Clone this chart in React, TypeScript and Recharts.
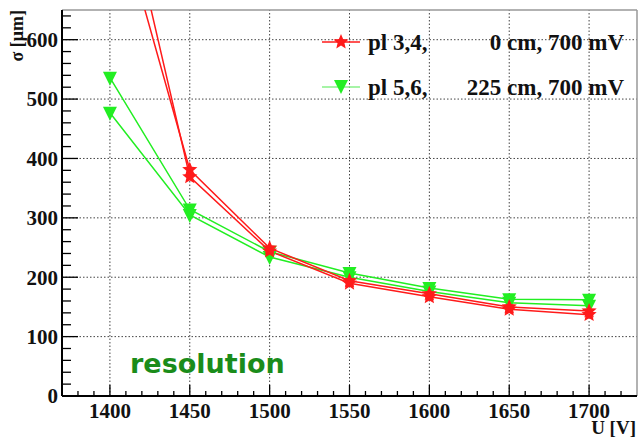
import React from 'react';
import { LineChart, Line, XAxis, YAxis, ReferenceLine, Legend } from 'recharts';

// ---- data ----
const voltages = [1400, 1450, 1500, 1550, 1600, 1650, 1700];
const redA = [860, 381, 249, 194, 172, 150, 143];
const redB = [950, 369, 244, 190, 167, 146, 137];
const greenA = [536, 314, 243, 207, 182, 163, 162];
const greenB = [477, 305, 234, 200, 176, 157, 152];

const xMajor = [1400, 1450, 1500, 1550, 1600, 1650, 1700];
const xMinor = [1380, 1390, 1410, 1420, 1430, 1440, 1460, 1470, 1480, 1490, 1510, 1520, 1530, 1540,
  1560, 1570, 1580, 1590, 1610, 1620, 1630, 1640, 1660, 1670, 1680, 1690, 1710, 1720];
const yMajor = [0, 100, 200, 300, 400, 500, 600];
const yMinor = [20, 40, 60, 80, 120, 140, 160, 180, 220, 240, 260, 280, 320, 340, 360, 380,
  420, 440, 460, 480, 520, 540, 560, 580, 620, 640];

const legendNames = ['pl 3,4,', 'pl 5,6,'];
const legendDetails = ['0 cm, 700 mV', '225 cm, 700 mV'];
const xTitle = 'U [V]';
const yTitle = 'σ [μm]';
const noteText = 'resolution';

const xDomain = [1370, 1730];
const yDomain = [0, 650];

const data = voltages.map((u, i) => ({ u, redA: redA[i], redB: redB[i], greenA: greenA[i], greenB: greenB[i] }));

const RED = '#ff1a1a';
const GREEN = '#22ee22';
const SERIF = "'Liberation Serif', 'Times New Roman', 'DejaVu Serif', serif";

const starPath = (cx: number, cy: number, R: number, r: number) => {
  let d = '';
  for (let k = 0; k < 10; k++) {
    const rad = k % 2 === 0 ? R : r;
    const a = -Math.PI / 2 + (k * Math.PI) / 5;
    d += (k === 0 ? 'M' : 'L') + (cx + rad * Math.cos(a)).toFixed(2) + ',' + (cy + rad * Math.sin(a)).toFixed(2);
  }
  return d + 'Z';
};

const StarDot = (props: any) => {
  const { cx, cy, index } = props;
  if (cx == null || cy == null) return <g key={'s' + index} />;
  return <path key={'s' + index} d={starPath(cx, cy, 8, 3.6)} fill={RED} />;
};

const TriDot = (props: any) => {
  const { cx, cy, index } = props;
  if (cx == null || cy == null) return <g key={'t' + index} />;
  return (
    <path key={'t' + index} d={`M${cx - 7},${cy - 6} L${cx + 7},${cy - 6} L${cx},${cy + 8} Z`} fill={GREEN} />
  );
};

const txt = { fontFamily: SERIF, fontWeight: 700 } as React.CSSProperties;

const XTick = (props: any) => {
  const { x, y, payload } = props;
  const major = xMajor.includes(payload.value);
  const axisY = y - 7;
  return (
    <g>
      <line x1={x} x2={x} y1={axisY} y2={axisY - (major ? 11 : 5)} stroke="#000" strokeWidth={1.3} />
      {major && (
        <text x={x} y={y} dy="0.71em" textAnchor="middle" style={{ ...txt, fontSize: 21 }} fill="#111">
          {payload.value}
        </text>
      )}
    </g>
  );
};

const YTick = (props: any) => {
  const { x, y, payload } = props;
  const major = yMajor.includes(payload.value);
  const axisX = x + 4;
  return (
    <g>
      <line x1={axisX} x2={axisX + (major ? 16 : 9)} y1={y} y2={y} stroke="#000" strokeWidth={1.3} />
      {major && (
        <text x={x} y={y} dy="0.35em" textAnchor="end" style={{ ...txt, fontSize: 21 }} fill="#111">
          {payload.value}
        </text>
      )}
    </g>
  );
};

const LegendContent = () => (
  <svg width={310} height={75} style={{ display: 'block' }}>
    {[0, 1].map((i) => {
      const cy = i === 0 ? 14 : 59;
      const color = i === 0 ? RED : '#88f088';
      return (
        <g key={i}>
          <line x1={4} x2={42} y1={cy} y2={cy} stroke={color} strokeWidth={1.5} />
          {i === 0 ? (
            <path d={starPath(23, cy, 8, 3.6)} fill={RED} />
          ) : (
            <path d={`M16,${cy - 7} L30,${cy - 7} L23,${cy + 7} Z`} fill={GREEN} />
          )}
          <text x={50} y={cy} dy="0.35em" style={{ ...txt, fontSize: 23 }} fill="#111">
            {legendNames[i]}
          </text>
          <text x={306} y={cy} dy="0.35em" textAnchor="end" style={{ ...txt, fontSize: 23 }} fill="#111">
            {legendDetails[i]}
          </text>
        </g>
      );
    })}
  </svg>
);

export default function App() {
  return (
    <div style={{ position: 'fixed', left: 0, top: 0, width: 640, height: 438, background: '#fff' }}>
      <LineChart width={640} height={438} data={data} margin={{ top: 10, right: 3, bottom: 0, left: 0 }}>
        <XAxis
          dataKey="u"
          type="number"
          domain={xDomain}
          allowDataOverflow
          ticks={[...xMajor, ...xMinor].sort((a, b) => a - b)}
          interval={0}
          height={42}
          tickSize={0}
          tickMargin={7}
          tick={<XTick />}
          tickLine={false}
          axisLine={{ stroke: '#000', strokeWidth: 2 }}
        />
        <YAxis
          type="number"
          domain={yDomain}
          allowDataOverflow
          ticks={[...yMajor, ...yMinor].sort((a, b) => a - b)}
          interval={0}
          width={62}
          tickSize={0}
          tickMargin={4}
          tick={<YTick />}
          tickLine={false}
          axisLine={{ stroke: '#000', strokeWidth: 2 }}
        />
        {xMajor.map((v) => (
          <ReferenceLine key={'gx' + v} x={v} stroke="#444" strokeDasharray="1.5 2" strokeWidth={1} />
        ))}
        {yMajor.filter((v) => v > 0).map((v) => (
          <ReferenceLine key={'gy' + v} y={v} stroke="#444" strokeDasharray="1.5 2" strokeWidth={1} />
        ))}
        <ReferenceLine y={yDomain[1]} stroke="#999" strokeWidth={1.5} />
        <ReferenceLine x={xDomain[1]} stroke="#999" strokeWidth={1.5} />
        <Line dataKey="greenA" stroke={GREEN} strokeWidth={1.5} dot={TriDot} isAnimationActive={false} />
        <Line dataKey="greenB" stroke={GREEN} strokeWidth={1.5} dot={TriDot} isAnimationActive={false} />
        <Line dataKey="redA" stroke={RED} strokeWidth={1.5} dot={StarDot} isAnimationActive={false} />
        <Line dataKey="redB" stroke={RED} strokeWidth={1.5} dot={StarDot} isAnimationActive={false} />
        <Legend
          layout="horizontal"
          verticalAlign="middle"
          align="center"
          content={<LegendContent />}
          wrapperStyle={{ position: 'absolute', left: 318, top: 28, width: 310, height: 75 }}
        />
      </LineChart>
      <svg width={640} height={438} style={{ position: 'absolute', left: 0, top: 0, pointerEvents: 'none' }}>
        <text transform="translate(17,10) rotate(-90)" textAnchor="end" dy="0.35em" style={{ ...txt, fontSize: 18 }} fill="#111">
          {yTitle}
        </text>
        <text x={636} y={427} dy="0.35em" textAnchor="end" style={{ ...txt, fontSize: 19 }} fill="#111">
          {xTitle}
        </text>
        <text x={130} y={373} style={{ fontFamily: "'DejaVu Sans', sans-serif", fontWeight: 700, fontSize: 27 }} fill="#1a8c1a">
          {noteText}
        </text>
      </svg>
    </div>
  );
}
